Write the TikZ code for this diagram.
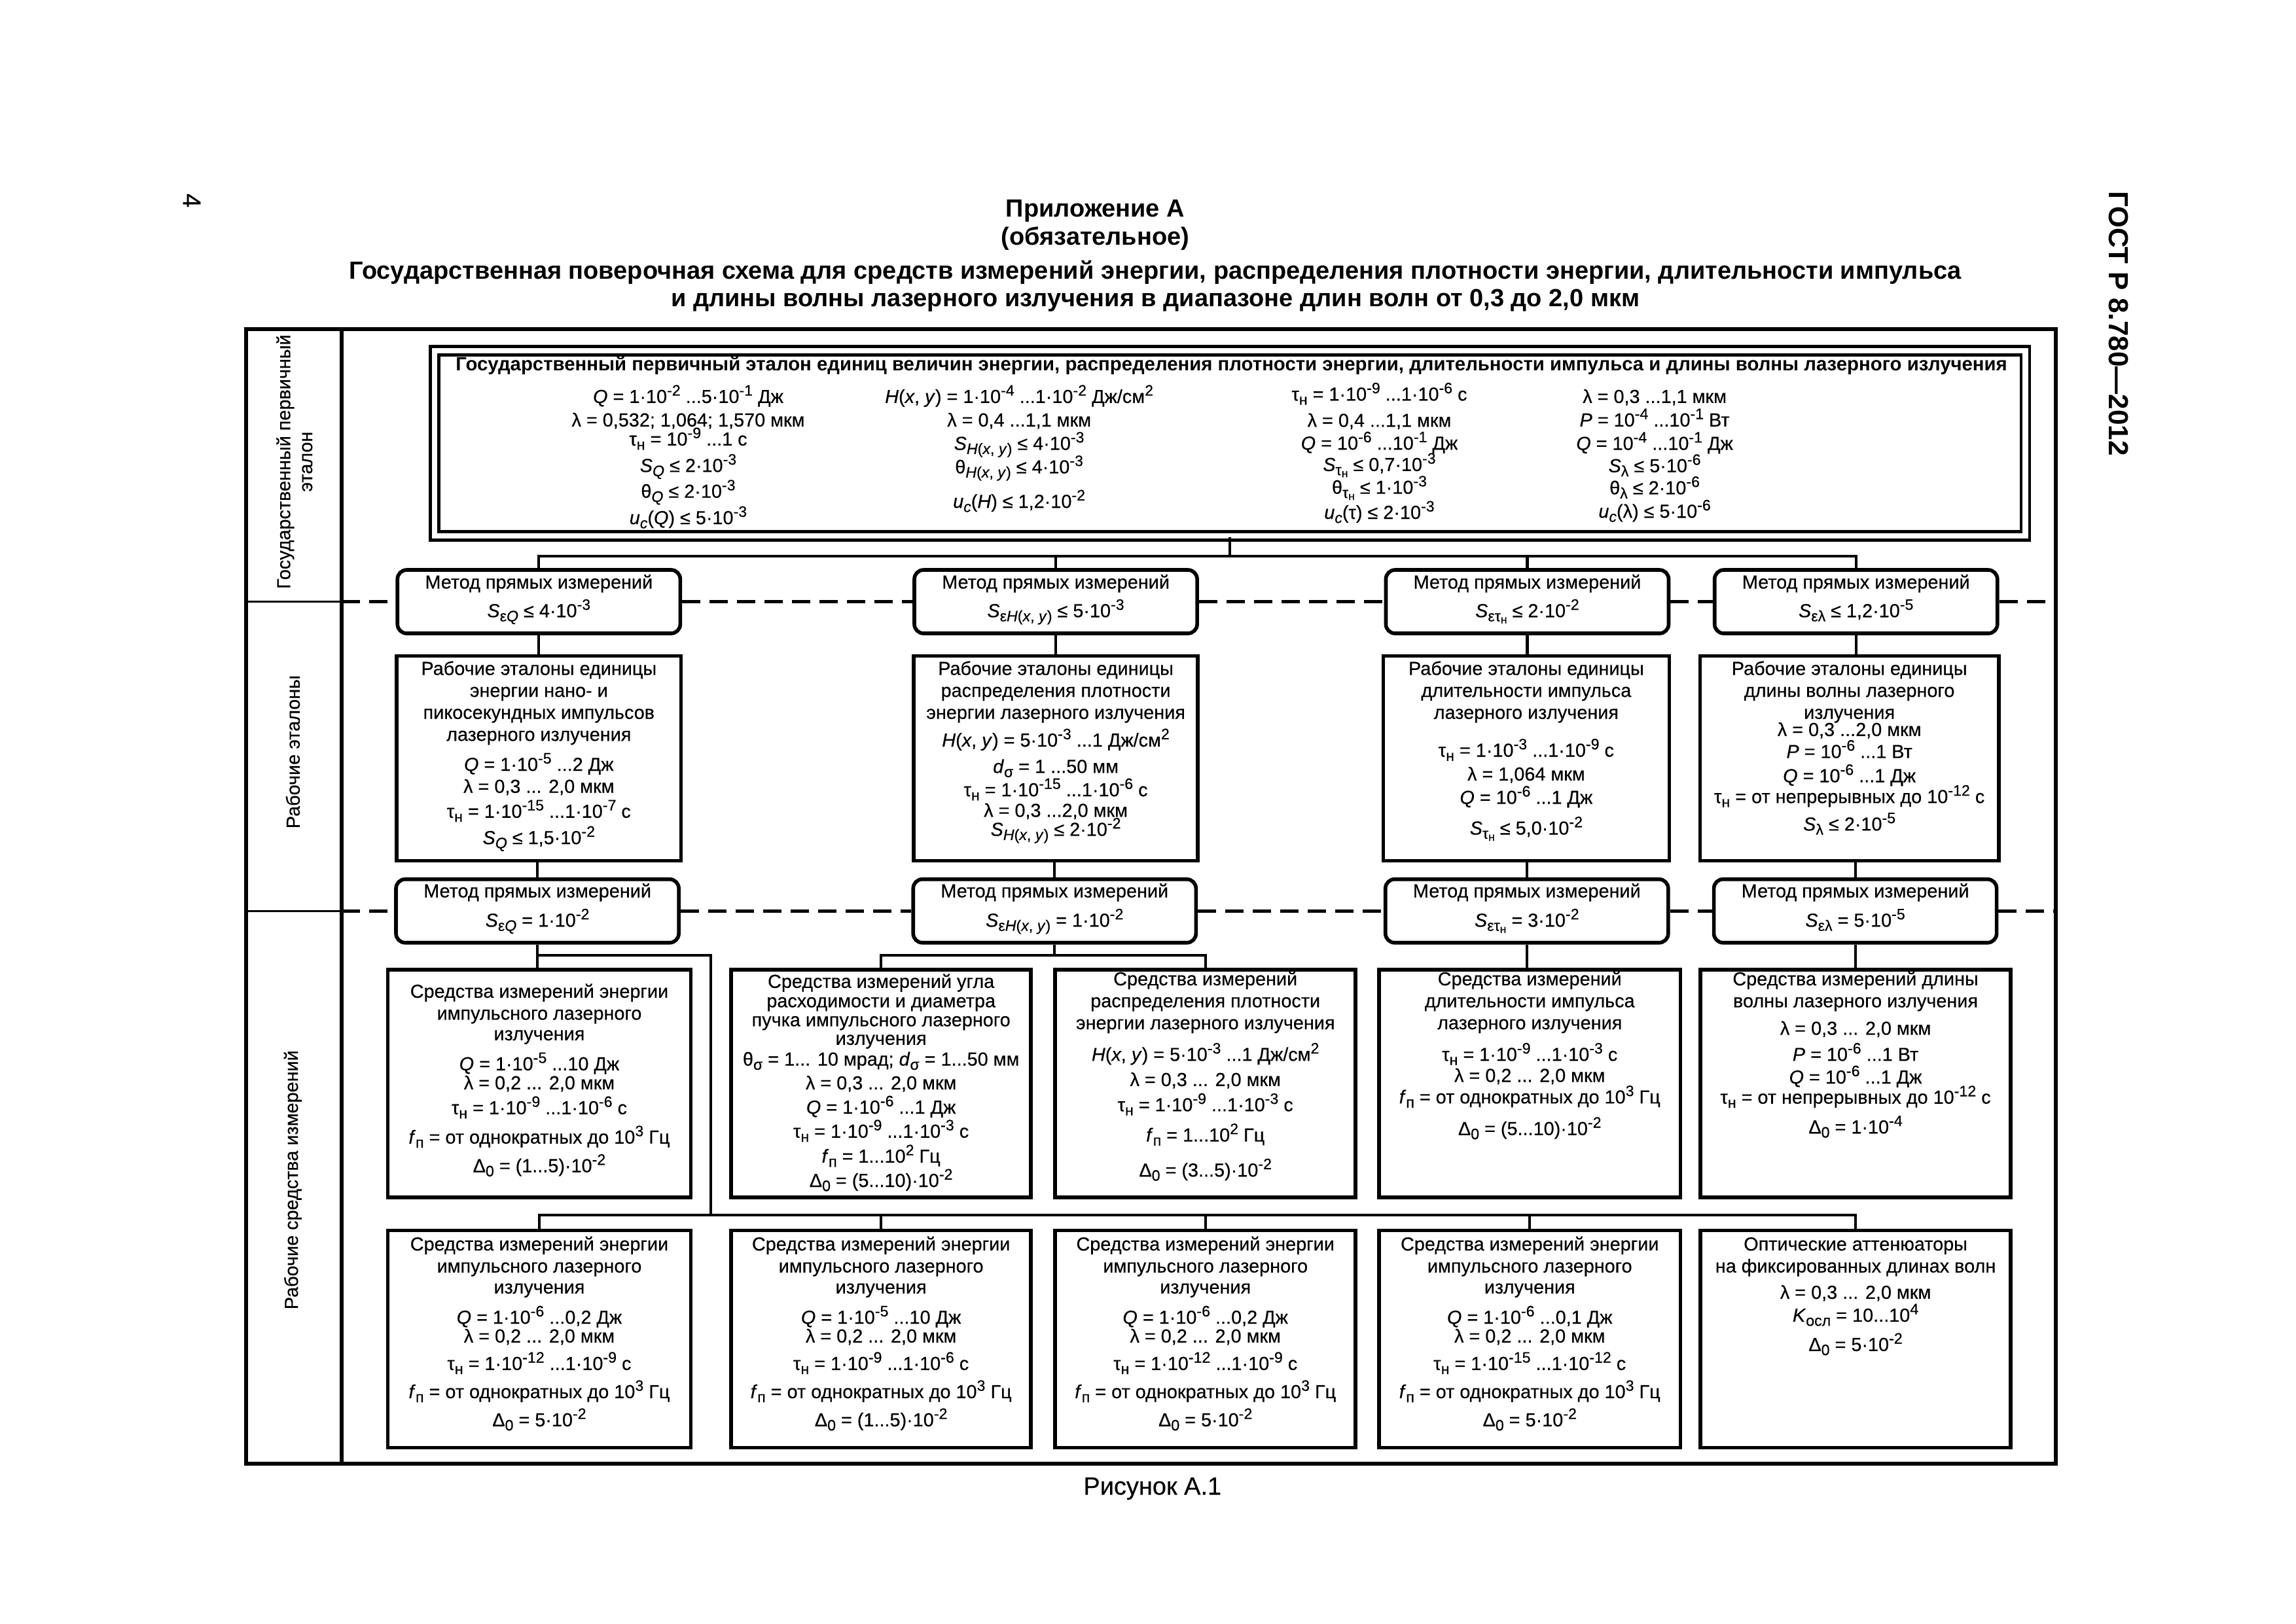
\documentclass[tikz,border=0pt]{standalone}
\usepackage{fontspec}
\setmainfont{Liberation Sans}[UprightFeatures={FakeBold=0.4},ItalicFeatures={FakeBold=0.4}]

\newcommand{\boxfont}{\fontsize{8.2}{9.55}\selectfont\lineskiplimit=-20pt\relax}
\newcommand{\primfont}{\fontsize{8.2}{10.2}\selectfont\lineskiplimit=-20pt\relax}
\newcommand{\sups}[1]{\raisebox{3.2pt}{\fontsize{6.6}{6.6}\selectfont#1}}
\newcommand{\subs}[1]{\raisebox{-1.8pt}{\fontsize{6.6}{6.6}\selectfont#1}}
\newcommand{\ten}[1]{10\sups{#1}}
\newcommand{\tn}{τ\subs{н}}
\newcommand{\tns}{τ\raisebox{-0.9pt}{\fontsize{5}{5}\selectfont н}}
\newcommand{\fl}{\rule{0pt}{8pt}}

\begin{document}
\begin{tikzpicture}[x=0.02237cm,y=-0.02237cm,
outerframe/.style={line width=1.7pt},
thinrule/.style={line width=1pt},
stdbox/.style={draw,line width=1.6pt,fill=white,inner sep=0pt},
methodbox/.style={stdbox,rounded corners=4pt,minimum width=4.32cm,minimum height=0.97cm},
primbox/.style={draw,line width=1.3pt,double,double distance=2.3pt,inner sep=0pt},
inbox/.style={anchor=north,align=center,inner sep=0pt,font=\boxfont},
incol/.style={anchor=north,align=center,inner sep=0pt,font=\primfont},
conn/.style={line width=1.2pt},
dashlink/.style={line width=1.3pt,dash pattern=on 0.28cm off 0.14cm},
rowtitle/.style={rotate=90,align=center,font=\boxfont},
headline/.style={anchor=base,inner sep=0pt,font=\fontsize{10.8}{13}\selectfont\bfseries}
]
\useasboundingbox (0,0) rectangle (1568,1109);

% page head
\node[rotate=-90,font=\fontsize{11}{13}\selectfont] (pnum) at (131,137) {4};
\node[rotate=-90,font=\fontsize{12}{14}\selectfont\bfseries] (gost) at (1446.7,221) {ГОСТ Р 8.780—2012};
\node[headline] (app) at (748,148) {Приложение А};
\node[headline] (oblig) at (748,167.6) {(обязательное)};
\node[headline] (title1) at (789,190.7) {Государственная поверочная схема для средств измерений энергии, распределения плотности энергии, длительности импульса};
\node[headline] (title2) at (789,209.3) {и длины волны лазерного излучения в диапазоне длин волн от 0,3 до 2,0 мкм};
\node[anchor=base,font=\fontsize{10.8}{13}\selectfont] (fig) at (787,1021) {Рисунок А.1};

% frame
\coordinate (ftl) at (168,225);
\coordinate (fbr) at (1404,999.8);
\draw[outerframe] (ftl) rectangle (fbr);
\draw[outerframe] (233.4,225) -- (233.4,999.8);
\draw[thinrule] (168,411) -- (233.4,411);
\draw[thinrule] (168,622.3) -- (233.4,622.3);
\node[rowtitle] (rt1) at (201,315.4) {Государственный первичный\\эталон};
\node[rowtitle] (rt2) at (200,513.6) {Рабочие эталоны};
\node[rowtitle] (rt3) at (200,806) {Рабочие средства измерений};

% primary standard
\node[primbox,minimum width=24.3cm,minimum height=2.83cm] (prim) at (840,302.8) {};
\node[anchor=base,inner sep=0pt,font=\fontsize{8.35}{9.55}\selectfont\bfseries] (primtitle) at (841,253.4)
  {Государственный первичный эталон единиц величин энергии, распределения плотности энергии, длительности импульса и длины волны лазерного излучения};
\node[incol] (pc1) at (470,262.4) {\fl\textit{Q} = 1·\ten{-2} ...5·\ten{-1} Дж\\λ = 0,532; 1,064; 1,570 мкм\\[-1.9pt]\tn{} = \ten{-9} ...1 с\\[1.3pt]\textit{S}\subs{\textit{Q}} ≤ 2·\ten{-3}\\[1pt]θ\subs{\textit{Q}} ≤ 2·\ten{-3}\\[1.3pt]\textit{u}\subs{\textit{c}}(\textit{Q}) ≤ 5·\ten{-3}};
\node[incol] (pc2) at (696,262.4) {\fl\textit{H}(\textit{x}, \textit{y}) = 1·\ten{-4} ...1·\ten{-2} Дж/см\sups{2}\\λ = 0,4 ...1,1 мкм\\\textit{S}\subs{\textit{H}(\textit{x},  \textit{y})} ≤ 4·\ten{-3}\\θ\subs{\textit{H}(\textit{x},  \textit{y})} ≤ 4·\ten{-3}\\[4.8pt]\textit{u}\subs{\textit{c}}(\textit{H}) ≤ 1,2·\ten{-2}};
\node[incol] (pc3) at (942,260.8) {\fl\tn{} = 1·\ten{-9} ...1·\ten{-6} с\\[1.2pt]λ = 0,4 ...1,1 мкм\\[-0.3pt]\textit{Q} = \ten{-6} ...\ten{-1} Дж\\[-0.9pt]\textit{S}\subs{\tns} ≤ 0,7·\ten{-3}\\[-0.3pt]θ\subs{\tns} ≤ 1·\ten{-3}\\[0.7pt]\textit{u}\subs{\textit{c}}(τ) ≤ 2·\ten{-3}};
\node[incol] (pc4) at (1130,262.4) {\fl λ = 0,3 ...1,1 мкм\\\textit{P} = \ten{-4} ...\ten{-1} Вт\\\textit{Q} = \ten{-4} ...\ten{-1} Дж\\[-0.5pt]\textit{S}\subs{λ} ≤ 5·\ten{-6}\\[-0.6pt]θ\subs{λ} ≤ 2·\ten{-6}\\\textit{u}\subs{\textit{c}}(λ) ≤ 5·\ten{-6}};

% direct method, upper row
\node[methodbox,label={[inbox,yshift=-0.7pt]north:{\fl Метод прямых измерений\\[2.9pt]\textit{S}\subs{ε\textit{Q}} ≤ 4·\ten{-3}}}] (m1) at (368,411) {};
\node[methodbox,label={[inbox,yshift=-0.7pt]north:{\fl Метод прямых измерений\\[2.9pt]\textit{S}\subs{ε\textit{H}(\textit{x}, \textit{y})} ≤ 5·\ten{-3}}}] (m2) at (721,411) {};
\node[methodbox,label={[inbox,yshift=-0.7pt]north:{\fl Метод прямых измерений\\[2.9pt]\textit{S}\subs{ε\tns} ≤ 2·\ten{-2}}}] (m3) at (1043,411) {};
\node[methodbox,label={[inbox,yshift=-0.7pt]north:{\fl Метод прямых измерений\\[2.9pt]\textit{S}\subs{ελ} ≤ 1,2·\ten{-5}}}] (m4) at (1267.5,411) {};

% working standards
\node[stdbox,minimum width=4.34cm,minimum height=3.13cm,label={[inbox,yshift=-0.9pt]north:{\fl Рабочие эталоны единицы\\энергии нано- и\\пикосекундных импульсов\\лазерного излучения\\[3.5pt]\textit{Q} = 1·\ten{-5} ...2 Дж\\λ = 0,3 ... 2,0 мкм\\[1.3pt]\tn{} = 1·\ten{-15} ...1·\ten{-7} с\\[1.9pt]\textit{S}\subs{\textit{Q}} ≤ 1,5·\ten{-2}}}] (w1) at (368,518) {};
\node[stdbox,minimum width=4.34cm,minimum height=3.13cm,label={[inbox,yshift=-0.9pt]north:{\fl Рабочие эталоны единицы\\распределения плотности\\энергии лазерного излучения\\[2.5pt]\textit{H}(\textit{x}, \textit{y}) = 5·\ten{-3} ...1 Дж/см\sups{2}\\[1.9pt]\textit{d}\subs{σ} = 1 ...50 мм\\[0.6pt]\tn{} = 1·\ten{-15} ...1·\ten{-6} с\\[-0.6pt]λ = 0,3 ...2,0 мкм\\[-1.3pt]\textit{S}\subs{\textit{H}(\textit{x},  \textit{y})} ≤ 2·\ten{-2}}}] (w2) at (721,518) {};
\node[stdbox,minimum width=4.37cm,minimum height=3.13cm,label={[inbox,yshift=-0.9pt]north:{\fl Рабочие эталоны единицы\\длительности импульса\\лазерного излучения\\[6.9pt]\tn{} = 1·\ten{-3} ...1·\ten{-9} с\\[0.8pt]λ = 1,064 мкм\\[0.6pt]\textit{Q} = \ten{-6} ...1 Дж\\[3.8pt]\textit{S}\subs{\tns} ≤ 5,0·\ten{-2}}}] (w3) at (1042.3,518) {};
\node[stdbox,minimum width=4.56cm,minimum height=3.13cm,label={[inbox,yshift=-0.9pt]north:{\fl Рабочие эталоны единицы\\длины волны лазерного\\излучения\\[-2.1pt]λ = 0,3 ...2,0 мкм\\\textit{P} = \ten{-6} ...1 Вт\\[1pt]\textit{Q} = \ten{-6} ...1 Дж\\[-0.5pt]\tn{} = от непрерывных до \ten{-12} с\\[2.4pt]\textit{S}\subs{λ} ≤ 2·\ten{-5}}}] (w4) at (1263,518) {};

% direct method, lower row
\node[methodbox,label={[inbox,yshift=-0.5pt]north:{\fl Метод прямых измерений\\[3.2pt]\textit{S}\subs{ε\textit{Q}} = 1·\ten{-2}}}] (n1) at (367,622.3) {};
\node[methodbox,label={[inbox,yshift=-0.5pt]north:{\fl Метод прямых измерений\\[3.2pt]\textit{S}\subs{ε\textit{H}(\textit{x}, \textit{y})} = 1·\ten{-2}}}] (n2) at (720.2,622.3) {};
\node[methodbox,label={[inbox,yshift=-0.5pt]north:{\fl Метод прямых измерений\\[3.2pt]\textit{S}\subs{ε\tns} = 3·\ten{-2}}}] (n3) at (1042.7,622.3) {};
\node[methodbox,label={[inbox,yshift=-0.5pt]north:{\fl Метод прямых измерений\\[3.2pt]\textit{S}\subs{ελ} = 5·\ten{-5}}}] (n4) at (1267,622.3) {};

% measuring instruments, upper row
\node[stdbox,minimum width=4.63cm,minimum height=3.48cm,label={[inbox,yshift=-4.8pt]north:{\fl Средства измерений энергии\\импульсного лазерного\\[-0.6pt]излучения\\[3.5pt]\textit{Q} = 1·\ten{-5} ...10 Дж\\[-1.3pt]λ = 0,2 ... 2,0 мкм\\[1.3pt]\tn{} = 1·\ten{-9} ...1·\ten{-6} с\\[3.2pt]\textit{f}\subs{п} = от однократных до \ten{3} Гц\\[2.9pt]Δ\subs{0} = (1...5)·\ten{-2}}}] (inst1) at (368.3,740.2) {};
\node[stdbox,minimum width=4.58cm,minimum height=3.48cm,label={[inbox,yshift=-0.5pt]north:{\fl Средства измерений угла\\[-1.1pt]расходимости и диаметра\\[-1.3pt]пучка импульсного лазерного\\[-1.5pt]излучения\\[-0.5pt]θ\subs{σ} = 1... 10 мрад; \textit{d}\subs{σ} = 1...50 мм\\[0.8pt]λ = 0,3 ... 2,0 мкм\\[1pt]\textit{Q} = 1·\ten{-6} ...1 Дж\\[0.9pt]\tn{} = 1·\ten{-9} ...1·\ten{-3} с\\[1.3pt]\textit{f}\subs{п} = 1...\ten{2} Гц\\[1pt]Δ\subs{0} = (5...10)·\ten{-2}}}] (inst2) at (601.7,740.2) {};
\node[stdbox,minimum width=4.59cm,minimum height=3.48cm,label={[inbox,yshift=0.6pt]north:{\fl Средства измерений\\распределения плотности\\энергии лазерного излучения\\[4.2pt]\textit{H}(\textit{x}, \textit{y}) = 5·\ten{-3} ...1 Дж/см\sups{2}\\[1.4pt]λ = 0,3 ... 2,0 мкм\\[1.4pt]\tn{} = 1·\ten{-9} ...1·\ten{-3} с\\[3.6pt]\textit{f}\subs{п} = 1...\ten{2} Гц\\[5.7pt]Δ\subs{0} = (3...5)·\ten{-2}}}] (inst3) at (823.2,740.2) {};
\node[stdbox,minimum width=4.6cm,minimum height=3.48cm,label={[inbox,yshift=0.6pt]north:{\fl Средства измерений\\длительности импульса\\лазерного излучения\\[4.2pt]\tn{} = 1·\ten{-9} ...1·\ten{-3} с\\[-0.4pt]λ = 0,2 ... 2,0 мкм\\[-0.2pt]\textit{f}\subs{п} = от однократных до \ten{3} Гц\\[4.2pt]Δ\subs{0} = (5...10)·\ten{-2}}}] (inst4) at (1044.7,740.2) {};
\node[stdbox,minimum width=4.74cm,minimum height=3.48cm,label={[inbox,yshift=0.6pt]north:{\fl Средства измерений длины\\волны лазерного излучения\\[2.4pt]λ = 0,3 ... 2,0 мкм\\[1.8pt]\textit{P} = \ten{-6} ...1 Вт\\[0.3pt]\textit{Q} = \ten{-6} ...1 Дж\\[-0.8pt]\tn{} = от непрерывных до \ten{-12} с\\[3.4pt]Δ\subs{0} = 1·\ten{-4}}}] (inst5) at (1267.2,740.2) {};

% measuring instruments, lower row
\node[stdbox,minimum width=4.63cm,minimum height=3.32cm,label={[inbox,yshift=-1.35pt]north:{\fl Средства измерений энергии\\импульсного лазерного\\[-0.4pt]излучения\\[3.6pt]\textit{Q} = 1·\ten{-6} ...0,2 Дж\\[-1.4pt]λ = 0,2 ... 2,0 мкм\\[2.4pt]\tn{} = 1·\ten{-12} ...1·\ten{-9} с\\[2.7pt]\textit{f}\subs{п} = от однократных до \ten{3} Гц\\[2.7pt]Δ\subs{0} = 5·\ten{-2}}}] (sub1) at (368.3,914.7) {};
\node[stdbox,minimum width=4.58cm,minimum height=3.32cm,label={[inbox,yshift=-1.35pt]north:{\fl Средства измерений энергии\\импульсного лазерного\\[-0.4pt]излучения\\[3.6pt]\textit{Q} = 1·\ten{-5} ...10 Дж\\[-1.4pt]λ = 0,2 ... 2,0 мкм\\[2.4pt]\tn{} = 1·\ten{-9} ...1·\ten{-6} с\\[2.7pt]\textit{f}\subs{п} = от однократных до \ten{3} Гц\\[2.7pt]Δ\subs{0} = (1...5)·\ten{-2}}}] (sub2) at (601.7,914.7) {};
\node[stdbox,minimum width=4.59cm,minimum height=3.32cm,label={[inbox,yshift=-1.35pt]north:{\fl Средства измерений энергии\\импульсного лазерного\\[-0.4pt]излучения\\[3.6pt]\textit{Q} = 1·\ten{-6} ...0,2 Дж\\[-1.4pt]λ = 0,2 ... 2,0 мкм\\[2.4pt]\tn{} = 1·\ten{-12} ...1·\ten{-9} с\\[2.7pt]\textit{f}\subs{п} = от однократных до \ten{3} Гц\\[2.7pt]Δ\subs{0} = 5·\ten{-2}}}] (sub3) at (823.2,914.7) {};
\node[stdbox,minimum width=4.6cm,minimum height=3.32cm,label={[inbox,yshift=-1.35pt]north:{\fl Средства измерений энергии\\импульсного лазерного\\[-0.4pt]излучения\\[3.6pt]\textit{Q} = 1·\ten{-6} ...0,1 Дж\\[-1.4pt]λ = 0,2 ... 2,0 мкм\\[2.4pt]\tn{} = 1·\ten{-15} ...1·\ten{-12} с\\[2.7pt]\textit{f}\subs{п} = от однократных до \ten{3} Гц\\[2.7pt]Δ\subs{0} = 5·\ten{-2}}}] (sub4) at (1044.7,914.7) {};
\node[stdbox,minimum width=4.74cm,minimum height=3.32cm,label={[inbox,yshift=-1.35pt]north:{\fl Оптические аттенюаторы\\на фиксированных длинах волн\\[1.9pt]λ = 0,3 ... 2,0 мкм\\[0.4pt]\textit{K}\subs{осл} = 10...\ten{4}\\[3.2pt]Δ\subs{0} = 5·\ten{-2}}}] (sub5) at (1267.2,914.7) {};

% dashed level lines
\coordinate (dl1) at (233.4,411);
\coordinate (dr1) at (1404,411);
\coordinate (dl2) at (233.4,622.3);
\coordinate (dr2) at (1404,622.3);
\draw[dashlink] (dl1) -- (m1.west) (m1.east) -- (m2.west) (m2.east) -- (m3.west) (m3.east) -- (m4.west) (m4.east) -- (dr1);
\draw[dashlink] (dl2) -- (n1.west) (n1.east) -- (n2.west) (n2.east) -- (n3.west) (n3.east) -- (n4.west) (n4.east) -- (dr2);

% connections
\coordinate (bus0) at (840,380);
\coordinate (fork) at (485.5,652.6);
\coordinate (bus2) at (485.5,830);
\draw[conn] (prim.south) -- (prim.south |- bus0);
\draw[conn] (m1.north) |- (m4.north |- bus0) -- (m4.north);
\draw[conn] (m2.north) -- (m2.north |- bus0);
\draw[conn] (m3.north) -- (m3.north |- bus0);
\foreach \i in {1,...,4} {
  \draw[conn] (m\i.south) -- (m\i.south |- w\i.north);
  \draw[conn] (n\i.north) -- (n\i.north |- w\i.south);
}
\draw[conn] (n1.south) -- (n1.south |- inst1.north);
\draw[conn] (n1.south |- fork) -- (fork) -- (bus2);
\draw[conn] (n2.south) -- (n2.south |- fork);
\draw[conn] (inst2.north) |- (inst3.north |- fork) -- (inst3.north);
\draw[conn] (n3.south) -- (n3.south |- inst4.north);
\draw[conn] (n4.south) -- (n4.south |- inst5.north);
\draw[conn] (sub1.north) |- (sub5.north |- bus2) -- (sub5.north);
\foreach \i in {2,3,4} \draw[conn] (sub\i.north) -- (sub\i.north |- bus2);
\end{tikzpicture}
\end{document}
